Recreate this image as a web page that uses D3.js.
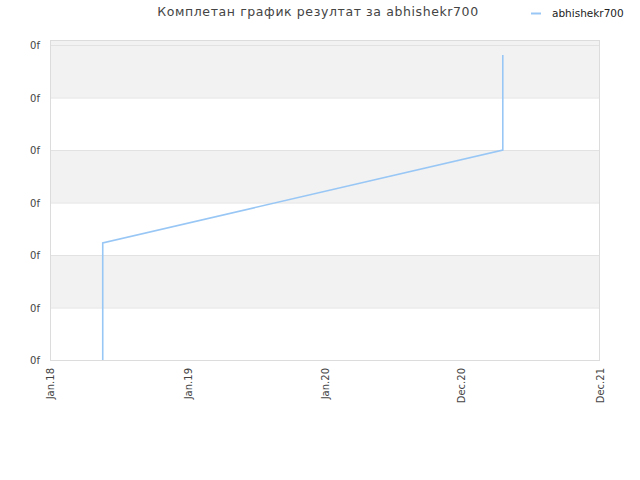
<!DOCTYPE html>
<html><head><meta charset="utf-8">
<script src="https://cdn.jsdelivr.net/npm/d3@7"></script>
<style>body{margin:0;background:#fff}svg{display:block}</style>
</head><body>
<script>
const seriesName = "abhishekr700";
const titleText = "Комплетан график резултат за abhishekr700";
const dates = ["2018-05-21","2018-05-21","2021-04-17","2021-04-17"];
const values = [0, 2.23, 4.0, 5.81];
const xTickDates = ["2018-01-01","2019-01-01","2020-01-01","2020-12-26","2021-12-31"];
const xTickLabels = ["Jan.18","Jan.19","Jan.20","Dec.20","Dec.21"];
const yTicks = [0,1,2,3,4,5,6];
const yTickLabel = "0f";

const W=640,H=480, L=50,R=600,T=40,B=360;
const parse = d3.timeParse("%Y-%m-%d");
const svg = d3.select("body").append("svg").attr("width",W).attr("height",H);
const x = d3.scaleTime().domain([parse("2018-01-01"), parse("2021-12-31")]).range([L,R]);
const y = d3.scaleLinear().domain([0, 6 + 5/52.5]).range([B,T]);

// bands
const bandG = svg.append("g");
for (let i=0;i<yTicks.length;i++){
  const v0 = yTicks[i], v1 = i+1<yTicks.length ? yTicks[i+1] : y.domain()[1];
  if (i%2===1) bandG.append("rect").attr("x",L).attr("width",R-L)
    .attr("y",y(v1)).attr("height",y(v0)-y(v1)).attr("fill","#f2f2f2");
}
bandG.append("rect").attr("x",L).attr("width",R-L).attr("y",T).attr("height",y(6)-T).attr("fill","#f2f2f2");
// grid
svg.append("g").selectAll("line").data(yTicks).join("line")
  .attr("x1",L).attr("x2",R).attr("y1",d=>y(d)+0.5).attr("y2",d=>y(d)+0.5)
  .attr("stroke","#e2e2e2");
// border
svg.append("rect").attr("x",L+0.5).attr("y",T+0.5).attr("width",R-L-1).attr("height",B-T)
  .attr("fill","none").attr("stroke","#dcdcdc");

// y labels
svg.append("g").selectAll("text").data(yTicks).join("text")
  .attr("x",40).attr("y",d=>y(d)+4).attr("text-anchor","end")
  .attr("font-family","DejaVu Sans, sans-serif").attr("font-size",10).attr("fill","#444")
  .text(yTickLabel);

// x labels
svg.append("g").selectAll("text").data(xTickDates).join("text")
  .attr("transform",(d)=>`translate(${x(parse(d))+4},368) rotate(-90)`)
  .attr("text-anchor","end")
  .attr("font-family","DejaVu Sans, sans-serif").attr("font-size",10).attr("fill","#444")
  .text((d,i)=>xTickLabels[i]);

// line
const pts = dates.map((d,i)=>({d:parse(d),v:values[i]}));
svg.append("path").datum(pts)
  .attr("d", d3.line().x(p=>x(p.d)).y(p=>y(p.v)))
  .attr("fill","none").attr("stroke","#99c7f5").attr("stroke-width",1.6);

// title
svg.append("text").attr("x",318).attr("y",16).attr("text-anchor","middle")
  .attr("font-family","DejaVu Sans, sans-serif").attr("font-size",12.5).attr("fill","#444")
  .attr("letter-spacing","0.6").text(titleText);

// legend
svg.append("line").attr("x1",531).attr("x2",541).attr("y1",13.5).attr("y2",13.5)
  .attr("stroke","#99c7f5").attr("stroke-width",2);
svg.append("text").attr("x",552).attr("y",17)
  .attr("font-family","DejaVu Sans, sans-serif").attr("font-size",10.5).attr("fill","#222")
  .text(seriesName);
</script>
</body></html>
